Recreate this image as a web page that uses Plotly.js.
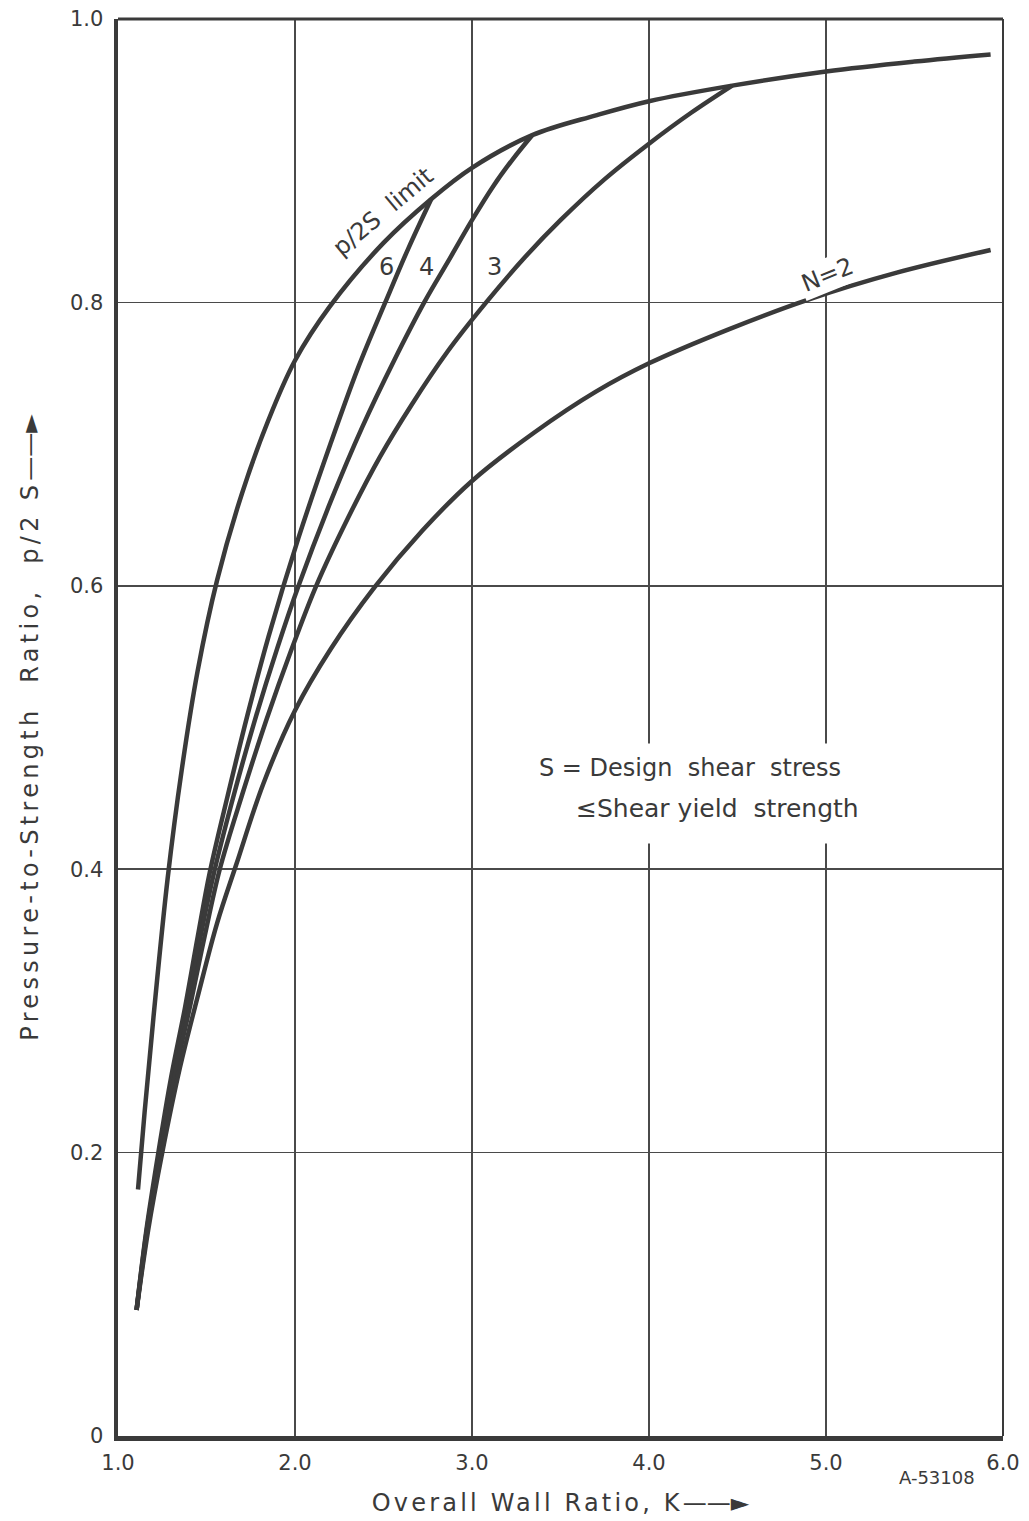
<!DOCTYPE html>
<html>
<head>
<meta charset="utf-8">
<script src="https://cdn.plot.ly/plotly-3.0.1.min.js"></script>
<style>
  html, body { margin: 0; padding: 0; background: #ffffff; }
  #chart { width: 1029px; height: 1521px; }
  .g-xtitle text { letter-spacing: 3.2px; }
  .g-ytitle text { letter-spacing: 4.3px; }
</style>
</head>
<body>
<div id="chart"></div>
<script>
// ---- Data ----
// Overall wall ratio K (x) and pressure-to-strength ratio p/2S (y)
const limitK = [1.113, 1.15, 1.20, 1.28, 1.36, 1.45, 1.56, 1.70, 1.85, 2.00, 2.196, 2.50, 2.77, 3.00, 3.34, 3.70, 4.00, 4.47, 5.00, 5.50, 5.93];
const limitV = [0.174, 0.228, 0.295, 0.393, 0.470, 0.540, 0.604, 0.665, 0.717, 0.759, 0.797, 0.842, 0.873, 0.895, 0.918, 0.932, 0.942, 0.953, 0.963, 0.970, 0.975];

const n6K = [1.105, 1.16, 1.228, 1.30, 1.378, 1.45, 1.519, 1.62, 1.73, 1.85, 2.02, 2.20, 2.36, 2.51, 2.64, 2.77];
const n6V = [0.089, 0.145, 0.200, 0.253, 0.302, 0.352, 0.398, 0.452, 0.508, 0.564, 0.634, 0.700, 0.755, 0.800, 0.838, 0.873];

const n4K = [1.105, 1.16, 1.235, 1.31, 1.397, 1.47, 1.547, 1.66, 1.78, 1.90, 2.02, 2.20, 2.38, 2.56, 2.73, 2.87, 3.00, 3.12, 3.23, 3.34];
const n4V = [0.089, 0.143, 0.200, 0.254, 0.305, 0.355, 0.400, 0.455, 0.508, 0.556, 0.600, 0.659, 0.712, 0.759, 0.800, 0.830, 0.858, 0.882, 0.901, 0.918];

const n3K = [1.105, 1.17, 1.24, 1.32, 1.41, 1.49, 1.575, 1.70, 1.84, 1.98, 2.12, 2.30, 2.48, 2.66, 2.86, 3.08, 3.30, 3.50, 3.75, 4.00, 4.24, 4.47];
const n3V = [0.089, 0.149, 0.200, 0.254, 0.305, 0.353, 0.400, 0.452, 0.506, 0.555, 0.600, 0.648, 0.691, 0.728, 0.765, 0.800, 0.832, 0.858, 0.887, 0.912, 0.934, 0.953];

const n2K = [1.105, 1.17, 1.25, 1.35, 1.45, 1.56, 1.67, 1.82, 2.00, 2.20, 2.45, 2.72, 3.00, 3.35, 3.70, 4.00, 4.45, 4.90, 5.40, 5.93];
const n2V = [0.089, 0.145, 0.200, 0.260, 0.310, 0.362, 0.404, 0.460, 0.512, 0.555, 0.599, 0.639, 0.674, 0.708, 0.737, 0.757, 0.781, 0.802, 0.821, 0.837];

const xTickVals = [1, 2, 3, 4, 5, 6];
const xTickText = ['1.0', '2.0', '3.0', '4.0', '5.0', '6.0'];
const yTickVals = [0, 0.2, 0.4, 0.6, 0.8, 1.0];
const yTickText = ['0', '0.2', '0.4', '0.6', '0.8', '1.0'];

// ---- Styling ----
const INK = '#3a3a3a';
const FONT = 'DejaVu Sans, Liberation Sans, sans-serif';
const curveLine = { color: INK, width: 4.5, shape: 'spline', smoothing: 1.0 };

function curve(x, y, name) {
  return { x: x, y: y, name: name, type: 'scatter', mode: 'lines',
           line: curveLine, hoverinfo: 'skip', showlegend: false };
}

const traces = [
  curve(limitK, limitV, 'p/2S limit'),
  curve(n6K, n6V, 'N=6'),
  curve(n4K, n4V, 'N=4'),
  curve(n3K, n3V, 'N=3'),
  curve(n2K, n2V, 'N=2')
];

const ARROW = '<span style="letter-spacing:0px">\u2014\u2014\u25BA</span>';

const layout = {
  width: 1029,
  height: 1521,
  margin: { l: 118, r: 26, t: 19, b: 85 },
  paper_bgcolor: '#ffffff',
  plot_bgcolor: '#ffffff',
  font: { family: FONT, color: INK, size: 22 },
  showlegend: false,
  xaxis: {
    range: [1, 6],
    tickvals: xTickVals,
    ticktext: xTickText,
    showgrid: true,
    gridcolor: '#4a4a4a',
    gridwidth: 1.6,
    zeroline: false,
    showline: true,
    linecolor: INK,
    linewidth: 4.5,
    ticks: '',
    ticklabelstandoff: 4,
    tickfont: { family: FONT, size: 21, color: INK },
    title: { text: 'Overall Wall Ratio, K' + ARROW, font: { family: FONT, size: 24, color: INK }, standoff: 22 }
  },
  yaxis: {
    range: [0, 1],
    tickvals: yTickVals,
    ticktext: yTickText,
    showgrid: true,
    gridcolor: '#4a4a4a',
    gridwidth: 1.6,
    zeroline: false,
    showline: true,
    linecolor: INK,
    linewidth: 4.5,
    ticks: '',
    ticklabelstandoff: 6,
    tickfont: { family: FONT, size: 21, color: INK },
    title: { text: 'Pressure-to-Strength\u00A0 Ratio,\u00A0 p/2\u00A0S' + ARROW, font: { family: FONT, size: 24, color: INK }, standoff: 26 }
  },
  shapes: [
    { type: 'line', xref: 'paper', yref: 'paper', x0: 0, x1: 1, y0: 1, y1: 1, line: { color: INK, width: 3 } },
    { type: 'line', xref: 'paper', yref: 'paper', x0: 1, x1: 1, y0: 0, y1: 1, line: { color: INK, width: 2 } }
  ],
  annotations: [
    { x: 2.495, y: 0.864, xref: 'x', yref: 'y', text: 'p/2S\u00A0 limit', showarrow: false,
      textangle: -40, font: { family: FONT, size: 24, color: INK } },
    { x: 2.516, y: 0.825, xref: 'x', yref: 'y', text: '6', showarrow: false,
      font: { family: FONT, size: 24, color: INK } },
    { x: 2.742, y: 0.825, xref: 'x', yref: 'y', text: '4', showarrow: false,
      font: { family: FONT, size: 24, color: INK } },
    { x: 3.128, y: 0.825, xref: 'x', yref: 'y', text: '3', showarrow: false,
      font: { family: FONT, size: 24, color: INK } },
    { x: 5.007, y: 0.819, xref: 'x', yref: 'y', text: 'N=2', showarrow: false,
      textangle: -22, bgcolor: '#ffffff', borderpad: 2, font: { family: FONT, size: 24, color: INK } },
    { x: 4.385, y: 0.4425, xref: 'x', yref: 'y', text: '\u2264Shear yield\u00A0 strength', showarrow: false,
      bgcolor: '#ffffff', borderpad: 20, font: { family: FONT, size: 25, color: INK } },
    { x: 4.231, y: 0.4714, xref: 'x', yref: 'y', text: 'S = Design\u00A0 shear\u00A0 stress', showarrow: false,
      bgcolor: '#ffffff', borderpad: 10, font: { family: FONT, size: 24, color: INK } },
    { x: 0.925, y: -0.0296, xref: 'paper', yref: 'paper', xanchor: 'center', yanchor: 'middle',
      text: 'A-53108', showarrow: false, font: { family: FONT, size: 18, color: INK } }
  ]
};

Plotly.newPlot('chart', traces, layout, { staticPlot: true, displayModeBar: false });
</script>
</body>
</html>
